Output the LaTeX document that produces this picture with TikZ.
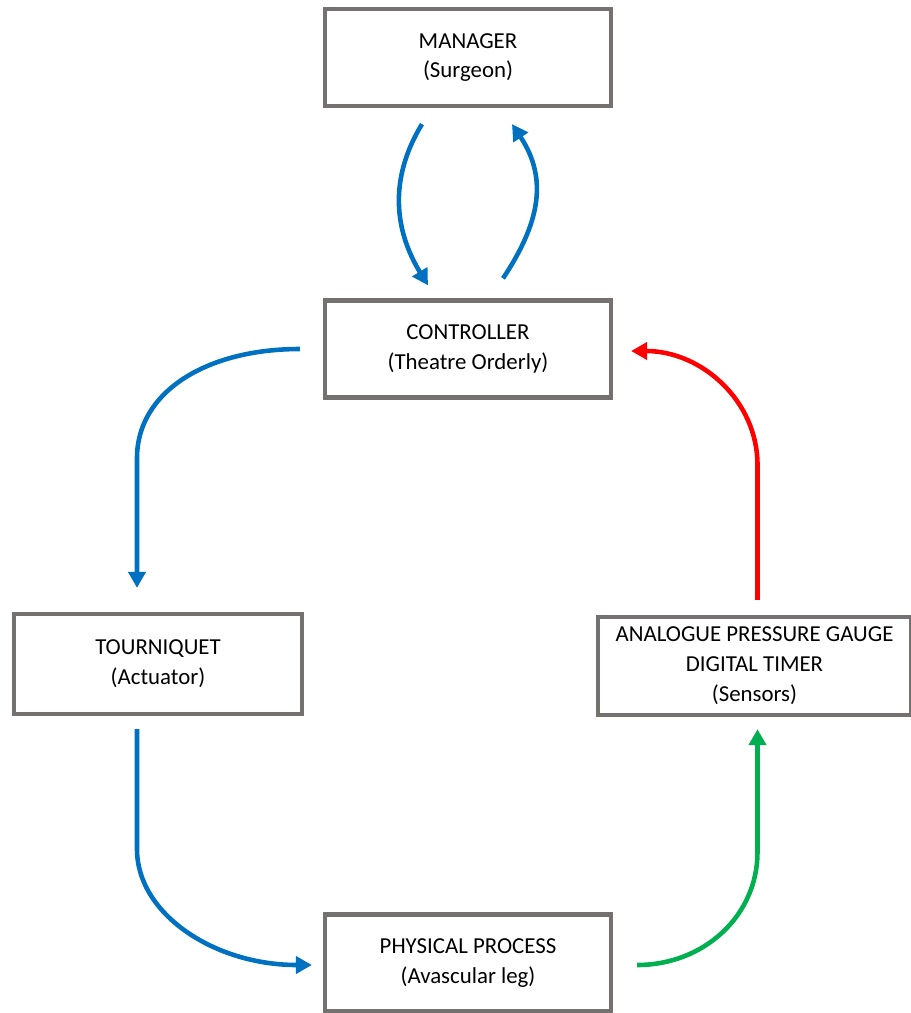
\documentclass[tikz,border=0pt]{standalone}
\usepackage{fontspec}
\setmainfont{Carlito}
\usepackage{tikz}
\usetikzlibrary{arrows.meta,
                positioning
            }

\definecolor{boxgray}{RGB}{118,113,113}
\definecolor{flowblue}{RGB}{0,112,192}
\definecolor{flowred}{RGB}{255,0,0}
\definecolor{flowgreen}{RGB}{0,176,80}

\tikzset{
    block/.style={draw=boxgray, line width=2.4pt, fill=white, align=center,
                  minimum width=5.72cm, minimum height=1.94cm,
                  font=\fontsize{13pt}{17pt}\selectfont},
    flow/.style={line width=2.6pt, -{Triangle[length=0.32cm,width=0.34cm]}},
    blueflow/.style={flow, draw=flowblue},
    redflow/.style={flow, draw=flowred},
    greenflow/.style={flow, draw=flowgreen}
}

\begin{document}
\begin{tikzpicture}
            \useasboundingbox (0, 0) rectangle (18.22, -20.26);
            \node[block] (mgr)  at (9.36, -1.15)  {MANAGER\\(Surgeon)};
            \node[block] (ctrl) at (9.36, -6.98)  {CONTROLLER\\(Theatre Orderly)};
            \node[block, minimum width=5.76cm, minimum height=2cm] (tour) at (3.16, -13.28) {TOURNIQUET\\(Actuator)};
            \node[block, minimum width=6.26cm, minimum height=1.96cm] (sens) at (15.09, -13.32) {ANALOGUE PRESSURE GAUGE\\DIGITAL TIMER\\(Sensors)};
            \node[block] (phys) at (9.36, -19.26) {PHYSICAL PROCESS\\(Avascular leg)};
            % manager <-> controller
            \draw[blueflow] ([xshift=-0.92cm, yshift=-0.32cm]mgr.south) .. controls +(-0.67, -1.1) and +(-0.67, 1.1) .. ([xshift=-0.8cm, yshift=0.26cm]ctrl.north);
            \draw[blueflow] ([xshift=0.7cm, yshift=0.4cm]ctrl.north) .. controls +(0.73, 1.1) and +(0.73, -1.1) .. ([xshift=0.88cm, yshift=-0.32cm]mgr.south);
            % loop round the process
            \draw[blueflow] ([xshift=-0.46cm]ctrl.west) .. controls +(-1.9, 0) and +(0, 1.3) .. ([xshift=-0.42cm, yshift=3.08cm]tour.north) -- ([xshift=-0.42cm, yshift=0.48cm]tour.north);
            \draw[blueflow] ([xshift=-0.42cm, yshift=-0.26cm]tour.south) -- ([xshift=-0.42cm, yshift=-2.66cm]tour.south) .. controls +(0, -1.3) and +(-1.95, 0) .. ([xshift=-0.22cm, yshift=-0.04cm]phys.west);
            \draw[greenflow] ([xshift=0.48cm, yshift=-0.04cm]phys.east) .. controls +(1.34, 0) and +(0, -1.27) .. ([xshift=0.06cm, yshift=-2.7cm]sens.south) -- ([xshift=0.06cm, yshift=-0.24cm]sens.south);
            \draw[redflow] ([xshift=0.06cm, yshift=0.3cm]sens.north) -- ([xshift=0.06cm, yshift=3.0cm]sens.north) .. controls +(0, 1.28) and +(1.41, 0) .. ([xshift=0.36cm, yshift=-0.04cm]ctrl.east);
        \end{tikzpicture}
\end{document}
